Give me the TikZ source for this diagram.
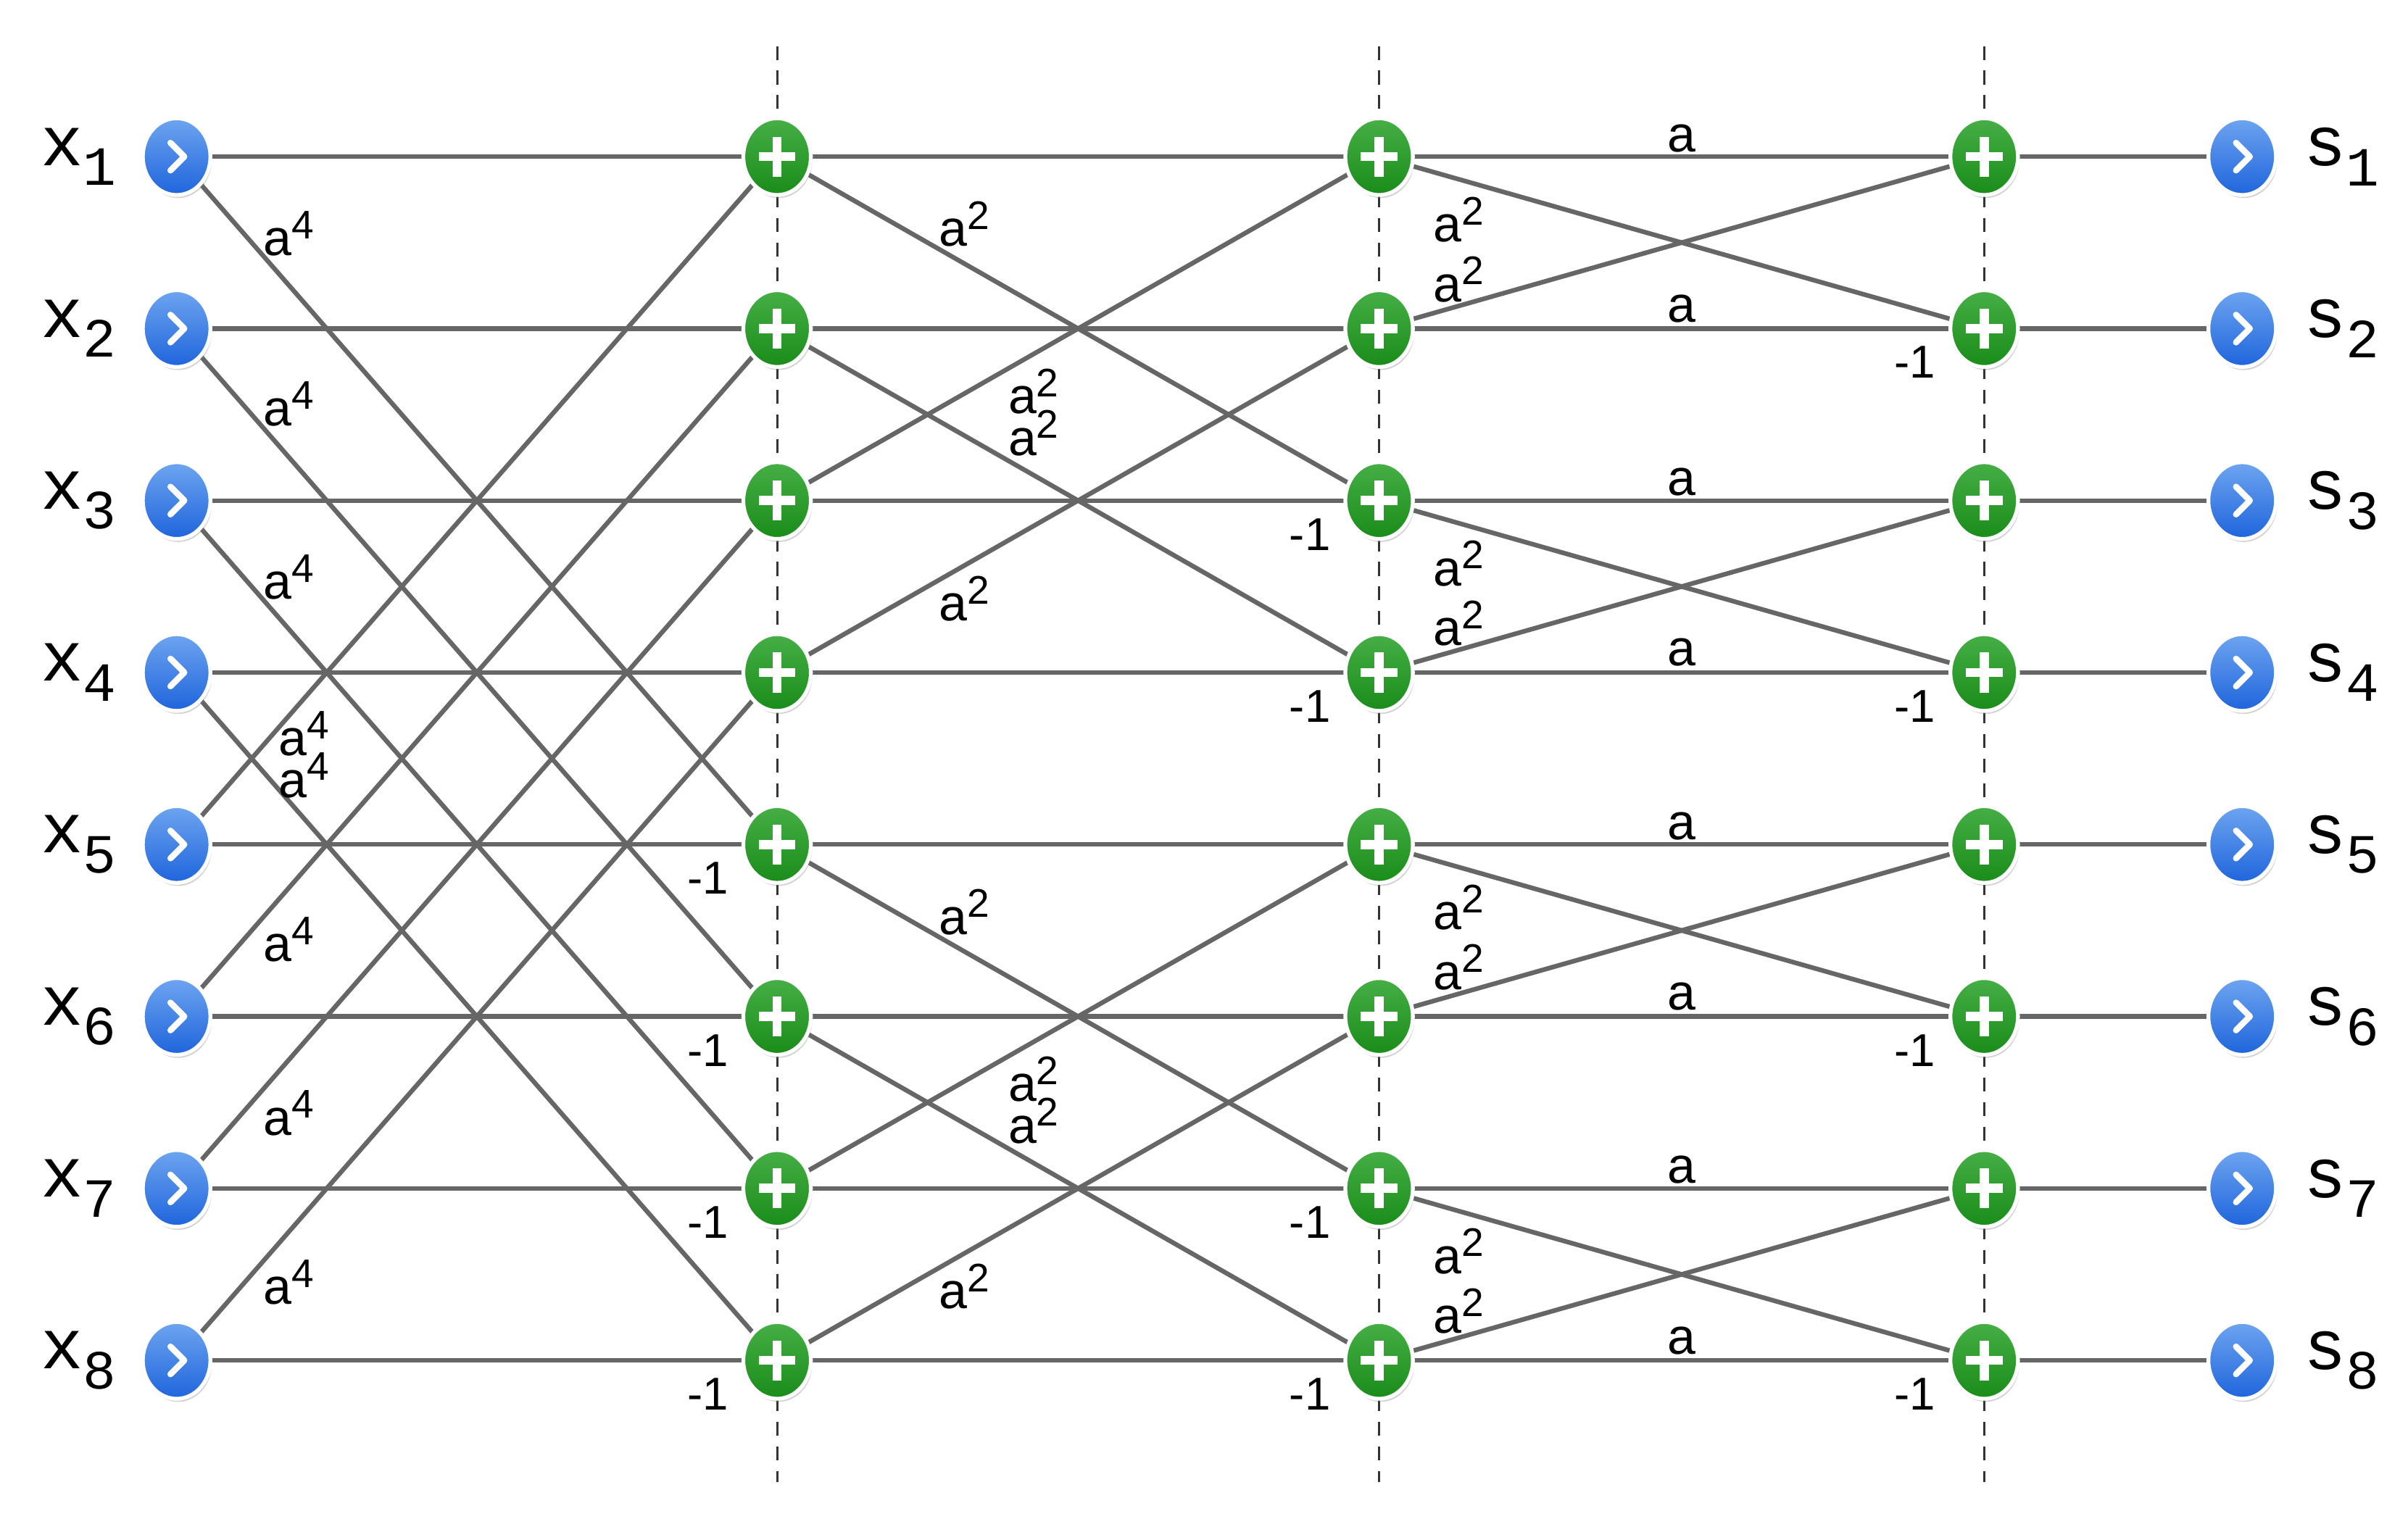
\documentclass[tikz,border=0pt]{standalone}
\usepackage{fontspec}
\setmainfont{Liberation Sans}
\newfontfamily\monof{Liberation Mono}
\usetikzlibrary{shapes.geometric,shadows}
\definecolor{bluetop}{RGB}{110,165,240}
\definecolor{bluebot}{RGB}{30,100,220}
\definecolor{greentop}{RGB}{70,175,70}
\definecolor{greenbot}{RGB}{25,140,25}
\newcommand{\sq}[1]{a\raisebox{11pt}{\fontsize{26}{26}\selectfont #1}}
\begin{document}
\begin{tikzpicture}[x=1pt,y=-1pt,
  wire/.style={draw=black!60,line width=3pt},
  vdash/.style={draw=black!80,line width=1.4pt,dash pattern=on 9pt off 7pt},
  inp/.style={ellipse,minimum width=44pt,minimum height=50pt,inner sep=0pt,draw=white,line width=2.5pt,
    top color=bluetop,bottom color=bluebot,drop shadow={opacity=0.35,shadow xshift=1pt,shadow yshift=-2pt},
    path picture={\draw[white,line width=4pt,line cap=round,line join=round]
      ([xshift=-4pt,yshift=9pt]path picture bounding box.center) -- ([xshift=5pt]path picture bounding box.center) -- ([xshift=-4pt,yshift=-9pt]path picture bounding box.center);}},
  add/.style={ellipse,minimum width=44pt,minimum height=50pt,inner sep=0pt,draw=white,line width=2.5pt,
    top color=greentop,bottom color=greenbot,drop shadow={opacity=0.35,shadow xshift=1pt,shadow yshift=-2pt},
    path picture={\draw[white,line width=6pt]
      ([xshift=-12pt]path picture bounding box.center) -- ([xshift=12pt]path picture bounding box.center)
      ([yshift=-13pt]path picture bounding box.center) -- ([yshift=13pt]path picture bounding box.center);}},
  lab/.style={font=\fontsize{33}{33}\selectfont,inner sep=0pt},
  nm/.style={font=\fontsize{30}{30}\selectfont,inner sep=0pt},
  io/.style={font=\monof\fontsize{46}{46}\selectfont,inner sep=0pt}
]
\useasboundingbox (0,0) rectangle (1568,989);
\foreach \x in {506,898,1292} \draw[vdash] (\x,30) -- (\x,965);
\foreach \i in {1,...,8}{
  \pgfmathsetmacro\yy{102+112*(\i-1)}
  \coordinate (in\i) at (115,\yy);
  \coordinate (A\i) at (506,\yy);
  \coordinate (B\i) at (898,\yy);
  \coordinate (C\i) at (1292,\yy);
  \coordinate (out\i) at (1460,\yy);
  \node[io,anchor=east] (xl\i) at (76,\yy) {x\raisebox{-13pt}{\fontsize{36}{36}\selectfont\i}};
  \node[io,anchor=west] (sl\i) at (1500,\yy) {s\raisebox{-13pt}{\fontsize{36}{36}\selectfont\i}};
}
\foreach \i in {1,...,8}{
  \draw[wire] (in\i) -- (A\i);
  \draw[wire] (A\i) -- (B\i);
  \draw[wire] (B\i) -- (C\i);
  \draw[wire] (C\i) -- (out\i);
}
\foreach \i/\j in {1/5,2/6,3/7,4/8}{
  \draw[wire] (in\i) -- (A\j);
  \draw[wire] (in\j) -- (A\i);
}
\foreach \i/\j in {1/3,2/4,5/7,6/8}{
  \draw[wire] (A\i) -- (B\j);
  \draw[wire] (A\j) -- (B\i);
}
\foreach \i/\j in {1/2,3/4,5/6,7/8}{
  \draw[wire] (B\i) -- (C\j);
  \draw[wire] (B\j) -- (C\i);
}
\foreach \i in {1,...,8}{
  \node[inp] (nin\i) at (in\i) {};
  \node[add] (nA\i) at (A\i) {};
  \node[add] (nB\i) at (B\i) {};
  \node[add] (nC\i) at (C\i) {};
  \node[inp] (nout\i) at (out\i) {};
}
% a^4 labels
\node[lab] (l41) at (188,152) {\sq4};
\node[lab] (l42) at (188,263) {\sq4};
\node[lab] (l43) at (188,376) {\sq4};
\node[lab] (l44) at (198,478) {\sq4};
\node[lab] (l45) at (198,505) {\sq4};
\node[lab] (l46) at (188,612) {\sq4};
\node[lab] (l47) at (188,725) {\sq4};
\node[lab] (l48) at (188,835) {\sq4};
% a^2 stage 2
\foreach \d in {0,448}{
  \node[lab] at (628,146+\d) {\sq2};
  \node[lab] at (673,255+\d) {\sq2};
  \node[lab] at (673,282+\d) {\sq2};
  \node[lab] at (628,390+\d) {\sq2};
}
% stage 3
\foreach \d in {0,224,448,672}{
  \node[lab] at (1095,90+\d) {a};
  \node[lab] at (1095,201+\d) {a};
  \node[lab] at (950,143+\d) {\sq2};
  \node[lab] at (950,182+\d) {\sq2};
}
% -1 labels
\foreach \n in {A5,A6,A7,A8,B3,B4,B7,B8,C2,C4,C6,C8}
  \node[nm] at ([xshift=-45pt,yshift=-22pt]\n) {-1};
\end{tikzpicture}
\end{document}
